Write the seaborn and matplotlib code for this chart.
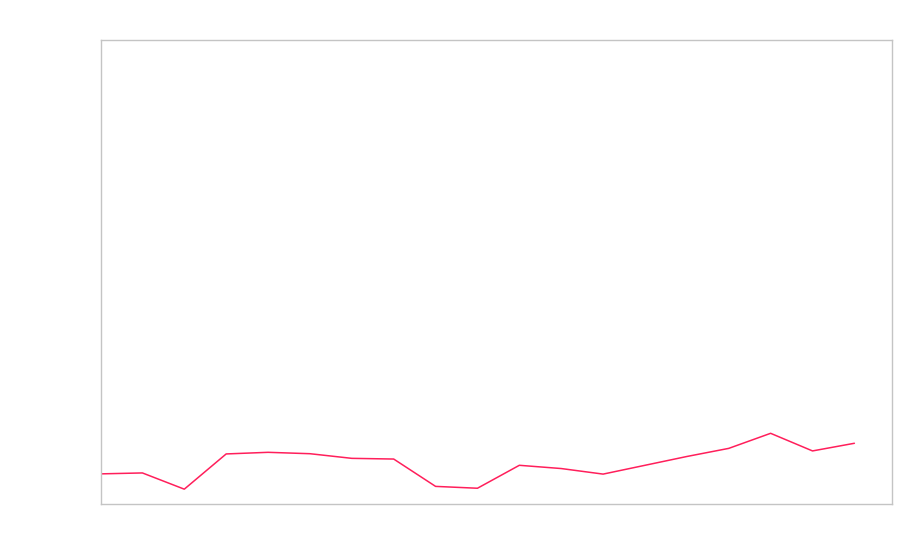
import matplotlib as mpl
mpl.use("Agg")
import matplotlib.pyplot as plt
import pandas as pd
import seaborn as sns

# values (y on a 0-100 scale)
steps = list(range(19))
values = [6.5, 6.7, 3.2, 10.8, 11.15, 10.85, 9.85, 9.7, 3.8, 3.4,
          8.35, 7.65, 6.45, 8.35, 10.25, 12.0, 15.25, 11.45, 13.1]

df = pd.DataFrame({"step": steps, "value": values})

sns.set_style("white")
fig = plt.figure(figsize=(9, 5.6), dpi=100)
ax = fig.add_axes([0.1117, 0.1, 0.8795, 0.8277])

sns.lineplot(data=df, x="step", y="value", color="#ff1f5b", lw=1.1, ax=ax)

ax.set_xlim(0, 18.9)
ax.set_ylim(0, 100)
ax.set_xticks([])
ax.set_yticks([])
ax.set_xlabel("")
ax.set_ylabel("")
for s in ax.spines.values():
    s.set_color("#c4c4c4")
    s.set_linewidth(1.0)

fig.savefig("out.png", dpi=100)
